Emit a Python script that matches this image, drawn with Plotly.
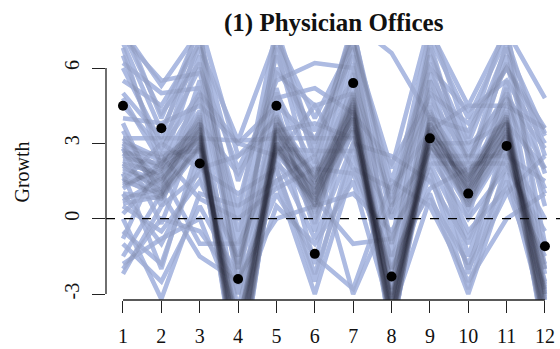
import plotly.graph_objects as go

months = [1, 2, 3, 4, 5, 6, 7, 8, 9, 10, 11, 12]
observed = [4.5, 3.6, 2.2, -2.4, 4.5, -1.4, 5.4, -2.3, 3.2, 1.0, 2.9, -1.1]
y_ticks = [-3, 0, 3, 6]
y_tick_labels = ["-3", "0", "3", "6"]

# simulated growth paths
core_draws = [
    [2.0, 1.5, 3.5, -5.5, 3.0, 1.0, 4.5, -3.8, 3.4, 1.5, 3.8, -3.5],
    [2.5, 2.0, 3.0, -4.5, 3.5, 1.5, 4.0, -3.2, 3.8, 1.0, 3.5, -4.0],
    [1.5, 1.0, 3.8, -6.5, 2.8, 0.5, 4.2, -4.2, 3.5, 1.8, 4.0, -3.0],
    [3.0, 2.3, 3.2, -5.0, 3.8, 1.2, 4.8, -3.5, 2.9, 1.2, 3.2, -4.6],
    [0.8, 1.2, 2.8, -6.0, 2.6, 0.8, 3.8, -4.0, 3.0, 0.8, 3.6, -3.2],
    [2.2, 1.8, 4.0, -7.0, 3.2, 1.0, 4.4, -3.6, 4.0, 1.4, 3.9, -5.0],
    [1.8, 0.9, 3.4, -4.8, 3.6, 1.6, 4.6, -4.5, 3.3, 0.6, 3.0, -2.8],
    [2.8, 1.6, 3.6, -5.8, 3.0, 0.4, 4.0, -3.3, 3.1, 1.6, 3.7, -4.2],
    [1.2, 2.2, 3.1, -4.2, 2.7, 1.3, 3.6, -3.9, 2.9, 1.1, 3.4, -3.6],
    [2.6, 1.4, 4.2, -6.8, 3.4, 0.9, 5.0, -4.8, 4.2, 1.9, 4.2, -4.4],
    [3.2, 1.9, 3.3, -5.2, 4.0, 1.8, 4.3, -3.1, 3.6, 0.9, 3.3, -3.0],
    [0.6, 0.9, 2.9, -4.6, 2.9, 0.3, 3.5, -4.1, 3.4, 1.3, 3.8, -3.8],
    [2.3, 1.7, 3.7, -6.2, 3.1, 1.1, 4.1, -3.7, 3.7, 1.2, 3.5, -4.8],
    [1.9, 1.3, 3.3, -5.6, 3.3, 0.7, 4.4, -4.4, 3.2, 1.4, 4.4, -3.3],
    [2.7, 2.1, 3.9, -4.4, 3.9, 1.4, 4.6, -3.4, 3.5, 1.7, 3.9, -2.6],
    [1.0, 0.8, 3.0, -6.6, 3.7, 0.5, 3.9, -4.6, 3.3, 0.5, 3.1, -4.5],
    [3.1, 2.4, 3.5, -5.4, 3.5, 1.7, 4.7, -3.0, 3.9, 1.8, 4.1, -2.9],
    [2.1, 1.1, 2.9, -6.4, 2.7, 0.6, 4.0, -4.3, 2.8, 0.7, 3.3, -3.9],
    [1.4, 1.9, 3.6, -5.1, 3.2, 1.9, 5.2, -3.6, 4.3, 1.6, 4.0, -3.4],
    [2.9, 1.2, 4.1, -4.9, 2.9, 1.3, 3.7, -4.0, 3.0, 0.4, 2.9, -4.1],
    [0.7, 1.6, 3.2, -5.9, 3.6, 0.8, 4.5, -3.5, 3.6, 1.5, 4.3, -3.1],
    [2.4, 2.2, 3.8, -6.1, 4.1, 1.5, 4.9, -4.7, 3.8, 1.0, 3.6, -4.3],
    [1.6, 0.8, 2.8, -4.3, 2.8, 0.9, 3.6, -3.3, 2.9, 1.7, 3.4, -2.7],
    [3.0, 1.5, 3.4, -5.3, 3.4, 1.2, 4.2, -3.9, 3.4, 1.3, 3.8, -3.7],
    [1.3, 2.0, 4.3, -6.9, 3.0, 0.6, 4.3, -4.1, 4.1, 1.1, 4.1, -4.7],
    [2.2, 1.0, 3.1, -5.7, 3.8, 1.7, 4.0, -3.2, 3.2, 0.8, 3.2, -3.2],
]
flat_draws = [
    [3.2, 3.2, 3.2, 3.1, 3.2, 3.2, 3.2, -2.5, 2.2, 2.2, 2.2, -1.0],
    [2.6, 2.6, 2.7, -2.0, 2.8, 2.7, 2.7, -2.2, 2.5, 2.5, 2.5, -2.0],
]
high_draws = [
    [7.5, 5.3, 7.5, -1.0, 7.0, 3.0, 7.5, 0.5, 7.5, 4.5, 7.5, 4.8],
    [7.2, 5.5, 5.8, 0.5, 6.5, 2.5, 7.8, 6.6, 4.0, 3.5, 6.0, 3.6],
    [6.5, 2.5, 7.2, 1.5, 5.5, 6.2, 6.0, -1.0, 7.2, 4.0, 7.2, 2.5],
    [7.0, 3.5, 6.8, 3.1, 7.2, 4.0, 7.0, 1.5, 6.0, 4.3, 5.5, 3.0],
    [5.5, 4.5, 7.0, -2.0, 6.0, 3.5, 6.5, 0.0, 6.5, 3.0, 6.8, 3.4],
    [6.0, 3.0, 6.0, 2.0, 5.0, 2.0, 7.5, 1.0, 5.5, 2.5, 5.0, 2.0],
    [4.5, 2.8, 5.0, 3.0, 4.5, 3.2, 5.5, 0.8, 5.0, 3.8, 6.0, 3.3],
    [7.8, 4.0, 7.6, -3.0, 7.4, 2.2, 7.2, -2.0, 7.0, 2.0, 7.0, -1.0],
    [6.8, 2.0, 6.5, -2.5, 6.8, 1.0, 6.8, -1.5, 6.2, 1.5, 6.5, 1.8],
    [5.0, 3.2, 7.8, 2.5, 4.0, 1.5, 7.0, 2.0, 7.8, 3.2, 7.8, -2.0],
    [6.2, 5.0, 5.2, -1.5, 5.8, 4.5, 5.0, -2.8, 5.8, 2.8, 4.8, 2.8],
    [7.4, 4.2, 6.2, 0.0, 7.6, 2.8, 7.6, 0.2, 6.8, 2.2, 6.2, 0.5],
]
mid_draws = [
    [0.0, -3.2, 1.0, 0.5, 1.5, -3.0, 2.0, -1.5, 1.0, -3.0, 1.5, -1.5],
    [-2.0, 0.0, -0.5, -2.6, 1.0, -1.5, -2.8, 1.5, 0.5, -2.5, 0.0, 1.0],
    [-1.0, -2.5, 0.5, -2.3, 0.0, 0.5, 1.0, -0.5, 2.0, -2.0, 1.0, 2.5],
    [1.0, -1.0, 2.0, 1.0, 2.0, -2.5, 3.0, 2.5, 1.5, -1.0, 2.5, 1.5],
    [-1.5, 1.0, -1.5, -2.5, 1.5, 2.5, -3.0, 0.5, 2.5, 0.0, 2.0, -0.5],
    [4.0, 3.8, 4.5, 3.0, 2.5, 4.5, 2.0, 1.2, 3.5, 4.5, 4.5, 3.6],
    [-0.5, -1.8, 2.5, -3.5, 2.0, -2.2, 2.5, -3.0, 1.8, -2.8, 2.2, -3.5],
    [0.5, -0.5, 1.5, -1.5, 3.0, 0.0, 3.5, -2.5, 4.5, -1.5, 3.0, -2.5],
    [3.8, 0.5, 5.0, -2.0, 4.5, -0.5, 5.8, -2.8, 5.2, 0.0, 5.5, -2.2],
    [1.5, 3.0, 2.0, 2.5, 3.5, 3.8, 3.2, 0.0, 3.0, 3.0, 3.8, 2.0],
    [-1.8, -0.8, 0.0, -3.8, 0.5, -1.0, 1.5, -3.8, 0.8, -1.8, 1.8, -4.0],
    [4.8, 2.2, 4.8, -4.0, 5.2, 0.2, 6.2, -3.5, 5.5, 1.0, 5.2, -3.0],
    [3.5, 1.0, 5.5, -0.5, 4.8, 5.2, 4.2, 2.2, 4.8, 2.4, 4.6, 1.0],
    [0.2, 1.8, -1.0, -1.0, 2.2, 0.8, -1.0, -0.8, 2.8, -0.5, 1.2, -2.8],
    [-2.2, 0.5, 1.8, -3.0, 2.4, -0.8, 3.0, -2.0, 2.2, -0.8, 2.6, -1.8],
    [1.8, -2.0, 3.0, -1.8, 3.8, -1.8, 4.8, -1.0, 3.8, -2.2, 3.6, -2.0],
    [-0.8, 2.5, 0.8, 0.0, 1.2, 2.0, 1.8, -2.0, 1.2, 2.0, 2.8, 0.0],
    [2.8, -0.2, 3.8, 1.8, 4.2, -0.2, 5.0, 0.6, 4.6, 0.5, 4.8, 1.2],
]

all_draws = high_draws + mid_draws + core_draws + flat_draws

LIGHT = "rgb(184,199,240)"
DARK = "rgba(22,28,48,0.07)"
SERIF = "Liberation Serif, serif"

fig = go.Figure()
for d in all_draws:
    fig.add_trace(go.Scatter(x=months, y=d, mode="lines",
                             line=dict(color=LIGHT, width=4.5),
                             hoverinfo="skip", showlegend=False))
for d in all_draws:
    fig.add_trace(go.Scatter(x=months, y=d, mode="lines",
                             line=dict(color=DARK, width=4.5),
                             hoverinfo="skip", showlegend=False))
fig.add_trace(go.Scatter(x=months, y=observed, mode="markers",
                         marker=dict(color="black", size=10),
                         showlegend=False))

fig.add_shape(type="line", xref="paper", yref="y", x0=0, x1=1, y0=0, y1=0,
              line=dict(color="black", width=1.3, dash="dash"))
# R-style axis lines
fig.add_shape(type="line", xref="paper", yref="y", x0=0, x1=0,
              y0=y_ticks[0], y1=y_ticks[-1], line=dict(color="#222", width=1.3))
fig.add_shape(type="line", xref="x", yref="paper", x0=months[0], x1=months[-1],
              y0=0, y1=0, line=dict(color="#222", width=1.3))

fig.update_layout(
    width=560, height=349,
    margin=dict(l=106, r=0, t=45, b=49),
    paper_bgcolor="white", plot_bgcolor="white",
    xaxis=dict(range=[0.557, 12.392], tickvals=months, ticks="outside", ticklen=12,
               tickwidth=1.3, tickcolor="#222", showgrid=False, zeroline=False,
               showline=False, tickfont=dict(family=SERIF, size=20, color="#111"),
               ticklabelstandoff=6),
    yaxis=dict(range=[-3.237, 6.917], tickvals=y_ticks, ticktext=y_tick_labels,
               ticks="outside", ticklen=13,
               tickwidth=1.3, tickcolor="#222", showgrid=False, zeroline=False,
               showline=False, tickangle=-90,
               tickfont=dict(family=SERIF, size=20, color="#111"),
               ticklabelstandoff=5),
    annotations=[
        dict(text="(1) Physician Offices", xref="paper", yref="paper",
             x=(334 - 106) / 454, y=1 + (45 - 23) / 255, showarrow=False,
             xanchor="center", yanchor="middle",
             font=dict(family=SERIF, size=25, color="#111", weight="bold")),
        dict(text="Growth", xref="paper", yref="paper",
             x=(21 - 106) / 454, y=0.5, textangle=-90, showarrow=False,
             xanchor="center", yanchor="middle",
             font=dict(family=SERIF, size=20, color="#111")),
    ],
)

fig.write_html("out.html", config={"displayModeBar": False},
               post_script="document.body.style.margin='0';")
